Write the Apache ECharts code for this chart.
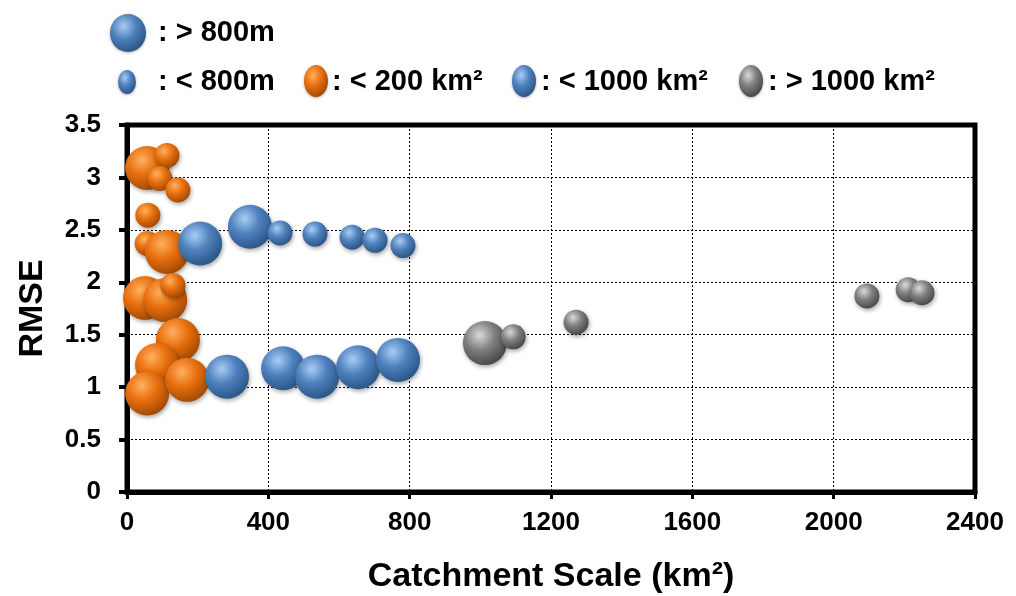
<!DOCTYPE html>
<html>
<head>
<meta charset="utf-8">
<script src="https://cdn.jsdelivr.net/npm/echarts@6/dist/echarts.min.js"></script>
<style>
  html, body { margin: 0; padding: 0; background: #fff; }
  #chart { width: 1016px; height: 596px; }
</style>
</head>
<body>
<div id="chart"></div>
<script>
// Catchment area (km²), RMSE and elevation class (1: > 800m, 0: < 800m)
const smallArea = [57, 113, 93, 144, 59, 57, 113, 51, 108, 130, 144, 85, 57, 170];
const smallRmse = [3.09, 3.21, 2.99, 2.88, 2.64, 2.37, 2.29, 1.85, 1.83, 1.97, 1.45, 1.21, 0.94, 1.07];
const smallHigh = [1, 0, 0, 0, 0, 0, 1, 1, 1, 0, 1, 1, 1, 1];

const midArea = [207, 348, 433, 532, 637, 702, 781, 283, 442, 538, 654, 767];
const midRmse = [2.37, 2.53, 2.47, 2.46, 2.43, 2.40, 2.35, 1.10, 1.18, 1.10, 1.19, 1.26];
const midHigh = [1, 1, 0, 0, 0, 0, 0, 1, 1, 1, 1, 1];

const largeArea = [1013, 1093, 1271, 2094, 2211, 2250];
const largeRmse = [1.42, 1.48, 1.62, 1.87, 1.93, 1.90];
const largeHigh = [1, 0, 0, 0, 0, 0];

const xTicks = [0, 400, 800, 1200, 1600, 2000, 2400];
const yTicks = [0, 0.5, 1, 1.5, 2, 2.5, 3, 3.5];

const FONT = 'Liberation Sans, Arial, sans-serif';

function sphere(light, base, dark) {
  return {
    type: 'radial', x: 0.38, y: 0.32, r: 0.75,
    colorStops: [
      { offset: 0, color: light },
      { offset: 0.45, color: base },
      { offset: 1, color: dark }
    ]
  };
}
const orangeFill = () => sphere('#ffb060', '#e8700f', '#9a4400');
const blueFill = () => sphere('#a9cdf5', '#4f81bd', '#25507f');
const grayFill = () => sphere('#d9d9d9', '#808080', '#404040');

function rows(xs, ys, hs) {
  return xs.map((x, i) => [x, ys[i], hs[i]]);
}

function bubbleSeries(name, data, fill) {
  return {
    name, type: 'scatter', data,
    symbolSize: d => (d[2] ? 44 : 25),
    itemStyle: {
      color: fill(), opacity: 1,
      shadowBlur: 4, shadowColor: 'rgba(0,0,0,0.35)', shadowOffsetX: 1, shadowOffsetY: 2
    },
    emphasis: { disabled: true }
  };
}

// legend marks and labels
function legendBall(cx, cy, rx, ry, fill) {
  return {
    type: 'circle', shape: { cx: 0, cy: 0, r: ry },
    x: cx, y: cy, scaleX: rx / ry, scaleY: 1,
    style: { fill: fill(), shadowBlur: 3, shadowColor: 'rgba(0,0,0,0.3)', shadowOffsetY: 1 }
  };
}
function legendText(x, y, text) {
  return {
    type: 'text', x, y,
    style: { text, font: 'bold 29px ' + FONT, fill: '#000', verticalAlign: 'middle' }
  };
}

const chart = echarts.init(document.getElementById('chart'));
chart.setOption({
  animation: false,
  backgroundColor: '#fff',
  grid: {
    left: 127, right: 41, top: 125, bottom: 104,
    outerBoundsMode: 'none', containLabel: false,
    show: true, borderColor: '#000', borderWidth: 5, backgroundColor: 'transparent'
  },
  xAxis: {
    type: 'value', min: xTicks[0], max: xTicks[xTicks.length - 1], interval: 400,
    name: 'Catchment Scale (km²)', nameLocation: 'middle', nameGap: 68,
    nameTextStyle: { fontFamily: FONT, fontWeight: 'bold', fontSize: 34, color: '#000' },
    axisLine: { show: true, onZero: false, lineStyle: { color: '#000', width: 5 } },
    axisTick: { show: true, length: 7, lineStyle: { color: '#000', width: 3 } },
    axisLabel: {
      margin: 18, fontFamily: FONT, fontWeight: 'bold', fontSize: 26, color: '#000',
      formatter: v => String(v)
    },
    splitLine: { show: true, lineStyle: { color: '#000', width: 1, type: [2, 2] } }
  },
  yAxis: {
    type: 'value', min: yTicks[0], max: yTicks[yTicks.length - 1], interval: 0.5,
    name: 'RMSE', nameLocation: 'middle', nameGap: 77, nameRotate: 90,
    nameTextStyle: { fontFamily: FONT, fontWeight: 'bold', fontSize: 34, color: '#000' },
    axisLine: { show: true, onZero: false, lineStyle: { color: '#000', width: 5 } },
    axisTick: { show: true, length: 8, lineStyle: { color: '#000', width: 4 } },
    axisLabel: { margin: 26, fontFamily: FONT, fontWeight: 'bold', fontSize: 26, color: '#000' },
    splitLine: { show: true, lineStyle: { color: '#000', width: 1, type: [2, 2] } }
  },
  series: [
    bubbleSeries('< 200 km²', rows(smallArea, smallRmse, smallHigh), orangeFill),
    bubbleSeries('< 1000 km²', rows(midArea, midRmse, midHigh), blueFill),
    bubbleSeries('> 1000 km²', rows(largeArea, largeRmse, largeHigh), grayFill)
  ],
  graphic: [
    legendBall(128, 33, 18, 19, blueFill),
    legendText(158, 33, ': > 800m'),
    legendBall(127, 82, 9, 12, blueFill),
    legendText(158, 82, ': < 800m'),
    legendBall(316, 81, 12, 16, orangeFill),
    legendText(332, 82, ': < 200 km²'),
    legendBall(524, 81, 12, 16, blueFill),
    legendText(541, 82, ': < 1000 km²'),
    legendBall(751, 81, 12, 16, grayFill),
    legendText(768, 82, ': > 1000 km²')
  ]
});
</script>
</body>
</html>
